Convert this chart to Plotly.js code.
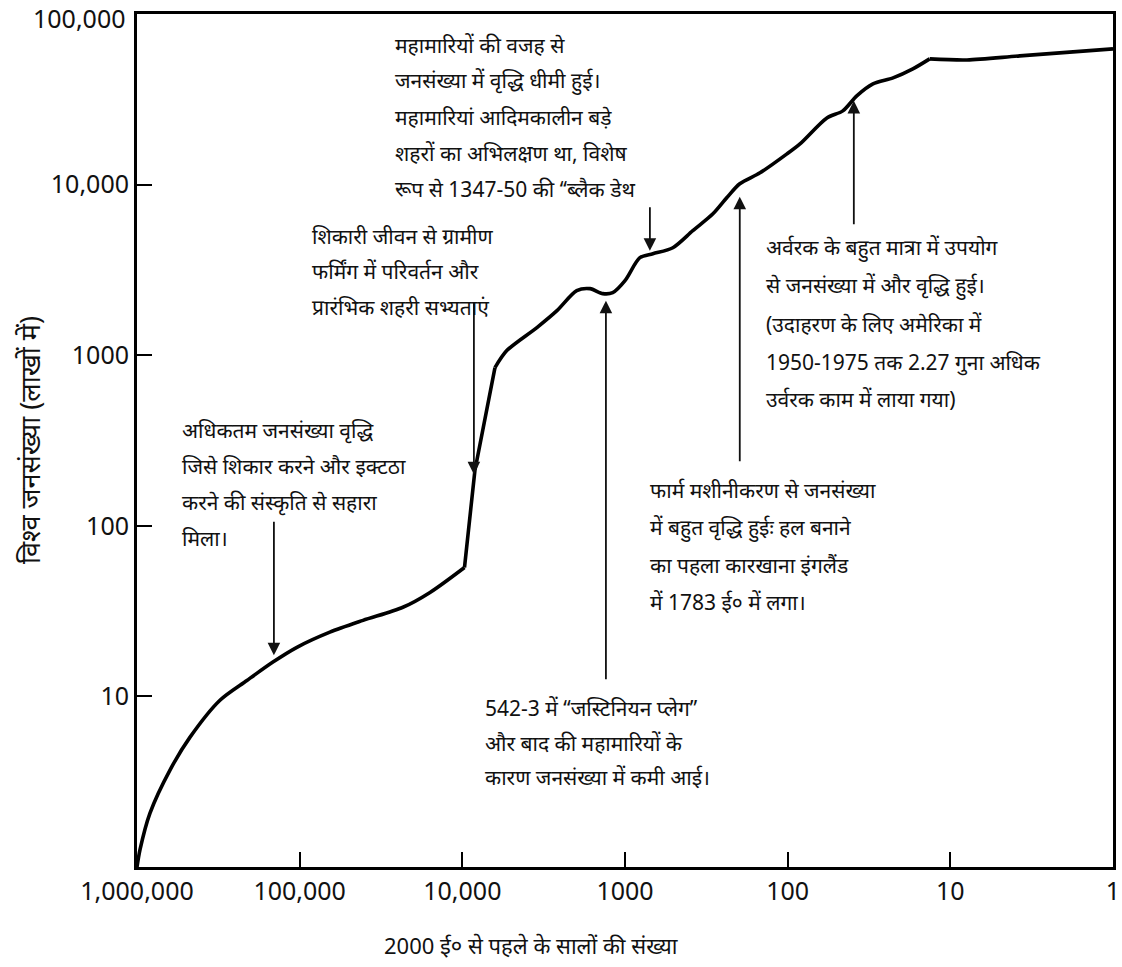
<!DOCTYPE html>
<html>
<head>
<meta charset="utf-8">
<script src="https://cdn.plot.ly/plotly-3.0.1.min.js"></script>
<style>
  html, body { margin: 0; padding: 0; background: #fff; }
  #chart { width: 1122px; height: 967px; }
</style>
</head>
<body>
<div id="chart"></div>
<script>
// Years before 2000 AD (log scale, read right to left)
const yearsBefore = [1000000, 959000, 832000, 627000, 472000, 309000, 211000, 146000, 104000,
  65200, 40800, 23200, 15800, 9700, 8370, 6300, 5330, 3480, 2620, 1980, 1640, 1370, 1190,
  1000, 810, 674, 508, 383, 288, 237, 197, 148, 101, 84, 57.4, 45.8, 37.6, 29.9, 22.5, 17.0,
  13.4, 7.9, 3.74, 1.0];
// World population in lakhs
const population = [1.0, 1.26, 2.07, 3.70, 5.77, 9.5, 12.4, 15.9, 19.4,
  23.8, 27.9, 33.3, 40.7, 57, 211, 846, 1064, 1452, 1824, 2390, 2455, 2295, 2326,
  2735, 3730, 3935, 4265, 5370, 6745, 8370, 10110, 11720, 15140, 17330, 24600, 27050, 33100, 38900, 42200, 47660,
  54550, 53800, 56800, 62500];
// Indices where the curve has a sharp corner
const corners = [13, 15, 40];

const xTickVals = [1000000, 100000, 10000, 1000, 100, 10, 1];
const xTickText = ['1,000,000', '100,000', '10,000', '1000', '100', '10', '1'];
const yTickVals = [10, 100, 1000, 10000, 100000];
const yTickText = ['10', '100', '1000', '10,000', '100,000'];

const xTitle = '2000 ई० से पहले के सालों की संख्या';
const yTitle = 'विश्व जनसंख्या (लाखों में)';

// Note blocks: text lines for each callout
const noteHunting = ['अधिकतम जनसंख्या वृद्धि', 'जिसे शिकार करने और इक्टठा', 'करने की संस्कृति से सहारा', 'मिला।'];
const noteFarming = ['शिकारी जीवन से ग्रामीण', 'फर्मिंग में परिवर्तन और', 'प्रारंभिक शहरी सभ्यताएं'];
const noteEpidemics = ['महामारियों की वजह से', 'जनसंख्या में वृद्धि धीमी हुई।', 'महामारियां आदिमकालीन बड़े', 'शहरों का अभिलक्षण था, विशेष', 'रूप से 1347-50 की ‘‘ब्लैक डेथ'];
const noteFertilizer = ['अर्वरक के बहुत मात्रा में उपयोग', 'से जनसंख्या में और वृद्धि हुई।', '(उदाहरण के लिए अमेरिका में', '1950-1975 तक 2.27 गुना अधिक', 'उर्वरक काम में लाया गया)'];
const noteMachines = ['फार्म मशीनीकरण से जनसंख्या', 'में बहुत वृद्धि हुईः हल बनाने', 'का पहला कारखाना इंगलैंड', 'में 1783 ई० में लगा।'];
const notePlague = ['542-3 में ‘‘जस्टिनियन प्लेग’’', 'और बाद की महामारियों के', 'कारण जनसंख्या में कमी आई।'];

// Points on the curve that the arrows point at (years before 2000, population)
const arrowYears = [144000, 8490, 703, 1310, 197, 39.2];
const arrowPops  = [17.4, 200, 4095, 2088, 8490, 30960];

// Plot frame in page pixels
const W = 1122, H = 967;
const M = { l: 137, r: 9, t: 14, b: 100 };
const plotW = W - M.l - M.r, plotH = H - M.t - M.b;
const px = v => (v - M.l) / plotW;
const py = v => (H - M.b - v) / plotH;

const FONT = 'Noto Sans, "Noto Sans Devanagari", Lato, sans-serif';
const TICK_SIZE = 25;
const annotations = [];

function addBlock(lines, left, tops) {
  lines.forEach((t, i) => {
    annotations.push({
      xref: 'paper', yref: 'paper', x: px(left), y: py(tops[i]),
      xanchor: 'left', yanchor: 'middle', text: t, showarrow: false,
      font: { family: FONT, size: 21, color: '#111' }
    });
  });
}
addBlock(noteHunting, 180, [430, 466, 502, 538]);
addBlock(noteFarming, 310, [236, 271, 307]);
addBlock(noteEpidemics, 393, [45, 81, 117, 153, 189]);
addBlock(noteFertilizer, 764, [247, 285, 324, 362, 399]);
addBlock(noteMachines, 648, [490, 527, 565, 602]);
addBlock(notePlague, 483, [708, 743, 777]);

// Arrow tails as pixel offsets from the tips
const tailOffsets = [[0, -135], [0, -174], [0, -45], [0, 380], [0, 266], [0, 125]];
arrowYears.forEach((yr, i) => {
  annotations.push({
    xref: 'x', yref: 'y', x: Math.log10(yr), y: Math.log10(arrowPops[i]),
    ax: tailOffsets[i][0], ay: tailOffsets[i][1], text: '',
    showarrow: true, arrowhead: 2, arrowsize: 1.4, arrowwidth: 1.8,
    arrowcolor: '#111', standoff: 0
  });
});

// The topmost y label sits at the frame edge; draw it nudged down so it stays on the page
const topIdx = yTickVals.length - 1;
const yTickShown = yTickText.map((t, i) => (i === topIdx ? '' : t));
annotations.push({
  xref: 'paper', yref: 'y', x: px(128), y: Math.log10(yTickVals[topIdx]), yshift: -4,
  xanchor: 'right', yanchor: 'middle', text: yTickText[topIdx], showarrow: false,
  font: { family: FONT, size: TICK_SIZE, color: '#111' }
});

// Axis titles
annotations.push({
  xref: 'paper', yref: 'paper', x: px(382), y: py(945), xanchor: 'left', yanchor: 'middle',
  text: xTitle, showarrow: false, font: { family: FONT, size: 22, color: '#111' }
});
annotations.push({
  xref: 'paper', yref: 'paper', x: px(29), y: py(440), xanchor: 'center', yanchor: 'middle',
  text: yTitle, textangle: -90, showarrow: false, font: { family: FONT, size: 27, color: '#111' }
});

// The curve: smooth pieces joined at the sharp corners
const bounds = [0, ...corners, yearsBefore.length - 1];
const traces = [];
for (let k = 0; k < bounds.length - 1; k++) {
  const a = bounds[k], b = bounds[k + 1];
  traces.push({
    x: yearsBefore.slice(a, b + 1), y: population.slice(a, b + 1),
    type: 'scatter', mode: 'lines',
    line: { color: '#000', width: 3.6, shape: (b - a > 2 ? 'spline' : 'linear'), smoothing: 0.8 },
    hoverinfo: 'skip'
  });
}

const axisCommon = {
  type: 'log', ticks: 'inside', ticklen: 15, tickwidth: 2, tickcolor: '#000',
  showline: true, linewidth: 3, linecolor: '#000', mirror: true,
  showgrid: false, zeroline: false, ticklabeloverflow: 'allow',
  tickfont: { family: FONT, size: TICK_SIZE, color: '#111' }
};

const layout = {
  width: W, height: H,
  margin: M,
  paper_bgcolor: '#fff', plot_bgcolor: '#fff',
  showlegend: false,
  font: { family: FONT, color: '#111' },
  xaxis: Object.assign({}, axisCommon, { range: [6, 0], tickvals: xTickVals, ticktext: xTickText }),
  yaxis: Object.assign({}, axisCommon, { range: [0, 5], tickvals: yTickVals, ticktext: yTickShown }),
  annotations: annotations
};

Plotly.newPlot('chart', traces, layout, { displayModeBar: false, staticPlot: true });
</script>
</body>
</html>
